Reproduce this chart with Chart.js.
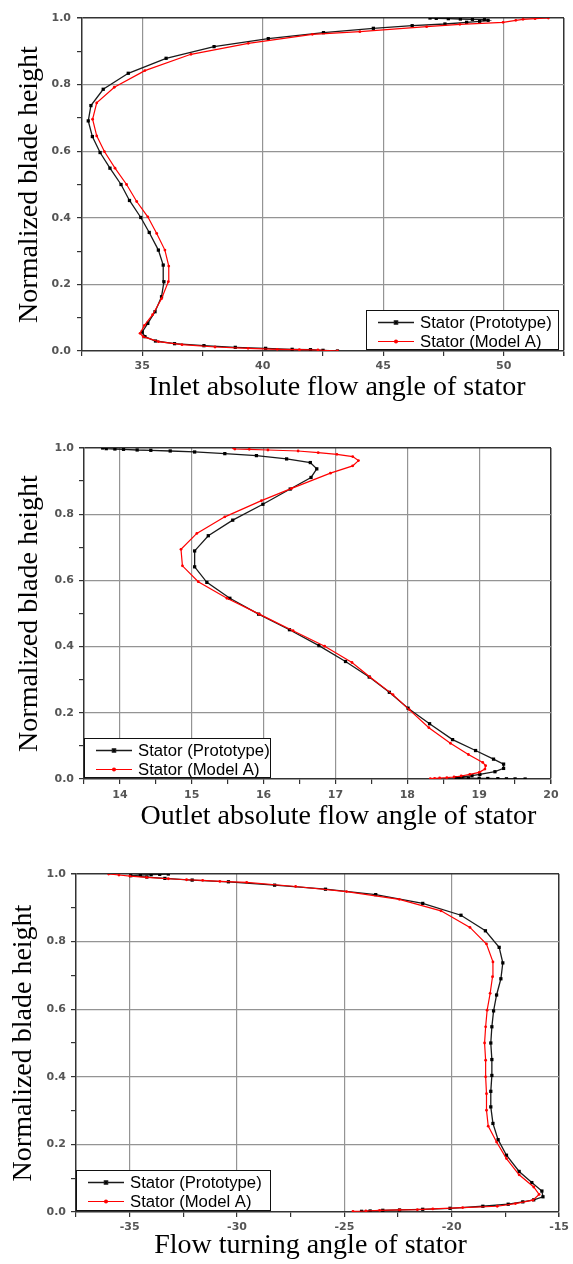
<!DOCTYPE html>
<html>
<head>
<meta charset="utf-8">
<script src="https://cdn.jsdelivr.net/npm/chart.js@4.4.1/dist/chart.umd.min.js"></script>
<style>
  html, body { margin: 0; padding: 0; background: #fff; }
  #page { position: relative; width: 573px; height: 1264px; }
  canvas { position: absolute; left: 0; }
</style>
</head>
<body>
<div id="page">
  <canvas id="inlet" width="573" height="420" style="top:0px"></canvas>
  <canvas id="outlet" width="573" height="425" style="top:420px"></canvas>
  <canvas id="turning" width="573" height="419" style="top:845px"></canvas>
</div>
<script>
// Series names (legend)
const seriesNames = ["Stator (Prototype)", "Stator (Model A)"];

// Axis titles (leading / trailing spaces nudge the centred title like the original)
const yTitle = "Normalized blade height";
const xTitles = [
    "    Inlet absolute flow angle of stator",
    "      Outlet absolute flow angle of stator",
    "Flow turning angle of stator  "
];

// --- Inlet absolute flow angle (deg) vs normalized height ---
const inletProtoAngle = [43.1, 42.5, 41.98, 41.22, 40.12, 38.86, 37.56, 36.34, 35.55, 35.11, 35.0, 35.23, 35.53, 35.8, 35.9, 35.87, 35.67, 35.29, 34.94, 34.47, 34.12, 33.66, 33.25, 32.93, 32.76, 32.87, 33.38, 34.42, 35.99, 37.98, 40.23, 42.52, 44.59, 46.2, 47.56, 48.46, 49.0, 49.35, 49.2, 48.7, 48.2, 47.7, 47.2, 46.94];
const inletProtoHeight = [0.0, 0.002, 0.004, 0.005, 0.008, 0.011, 0.016, 0.022, 0.030, 0.043, 0.057, 0.083, 0.118, 0.163, 0.208, 0.258, 0.303, 0.356, 0.401, 0.452, 0.50, 0.549, 0.596, 0.644, 0.691, 0.737, 0.786, 0.834, 0.879, 0.914, 0.938, 0.956, 0.969, 0.977, 0.982, 0.987, 0.990, 0.993, 0.995, 0.996, 0.997, 0.998, 0.999, 1.0];
const inletModelAngle = [43.1, 42.29, 41.52, 40.6, 39.39, 38.02, 36.65, 35.67, 35.04, 34.91, 35.09, 35.43, 35.8, 36.08, 36.1, 35.94, 35.6, 35.23, 34.77, 34.35, 33.87, 33.43, 33.11, 32.94, 33.11, 33.84, 35.11, 37.02, 39.4, 42.06, 44.03, 46.8, 48.18, 49.97, 50.5, 50.8, 51.3, 51.85];
const inletModelHeight = [0.0, 0.003, 0.004, 0.005, 0.008, 0.012, 0.019, 0.028, 0.043, 0.053, 0.077, 0.109, 0.157, 0.208, 0.255, 0.303, 0.353, 0.403, 0.449, 0.50, 0.549, 0.599, 0.646, 0.696, 0.745, 0.792, 0.842, 0.891, 0.924, 0.951, 0.959, 0.974, 0.981, 0.987, 0.993, 0.996, 0.998, 1.0];

// --- Outlet absolute flow angle (deg) vs normalized height ---
const outletProtoAngle = [19.64, 19.5, 19.38, 19.26, 19.12, 19.0, 18.85, 18.72, 18.68, 18.76, 18.9, 19.01, 19.22, 19.34, 19.34, 19.2, 18.95, 18.63, 18.31, 18.01, 17.75, 17.47, 17.14, 16.77, 16.36, 15.93, 15.53, 15.21, 15.04, 15.04, 15.23, 15.57, 15.99, 16.37, 16.66, 16.74, 16.65, 16.32, 15.9, 15.46, 15.04, 14.7, 14.43, 14.24, 14.05, 13.93, 13.81, 13.76];
const outletProtoHeight = [0.0, 0.0003, 0.0006, 0.001, 0.0015, 0.002, 0.0025, 0.003, 0.004, 0.006, 0.010, 0.014, 0.022, 0.032, 0.045, 0.060, 0.086, 0.119, 0.167, 0.214, 0.262, 0.308, 0.355, 0.403, 0.451, 0.498, 0.546, 0.594, 0.641, 0.689, 0.735, 0.782, 0.830, 0.876, 0.911, 0.937, 0.956, 0.967, 0.977, 0.983, 0.988, 0.991, 0.993, 0.994, 0.996, 0.997, 0.998, 1.0];
const outletModelAngle = [18.32, 18.38, 18.45, 18.55, 18.65, 18.75, 18.87, 19.0, 19.08, 19.09, 19.05, 18.85, 18.6, 18.3, 18.03, 17.8, 17.48, 17.23, 16.85, 16.41, 15.94, 15.49, 15.09, 14.87, 14.85, 15.07, 15.46, 15.97, 16.39, 16.93, 17.24, 17.32, 17.24, 17.02, 16.76, 16.48, 16.06, 15.8, 15.6, 15.58];
const outletModelHeight = [0.001, 0.002, 0.003, 0.004, 0.006, 0.009, 0.014, 0.020, 0.030, 0.040, 0.050, 0.074, 0.108, 0.155, 0.209, 0.255, 0.308, 0.352, 0.401, 0.448, 0.498, 0.546, 0.596, 0.644, 0.694, 0.742, 0.792, 0.841, 0.878, 0.924, 0.946, 0.962, 0.974, 0.981, 0.986, 0.991, 0.994, 0.996, 0.997, 1.0];

// --- Flow turning angle (deg) vs normalized height ---
const turnProtoAngle = [-24.2, -23.8, -23.21, -22.43, -21.35, -20.08, -18.55, -17.37, -16.69, -16.18, -15.75, -15.8, -16.27, -16.86, -17.45, -17.84, -18.08, -18.18, -18.18, -18.13, -18.13, -18.18, -18.13, -18.05, -17.91, -17.71, -17.62, -17.79, -18.43, -19.57, -21.35, -23.54, -25.88, -28.25, -30.4, -32.09, -33.36, -34.2, -34.95, -34.5, -34.0, -33.6, -33.2];
const turnProtoHeight = [0.002, 0.003, 0.005, 0.006, 0.008, 0.011, 0.017, 0.023, 0.030, 0.036, 0.045, 0.062, 0.087, 0.120, 0.168, 0.214, 0.262, 0.311, 0.357, 0.404, 0.451, 0.500, 0.548, 0.595, 0.642, 0.690, 0.737, 0.783, 0.832, 0.878, 0.913, 0.939, 0.955, 0.967, 0.977, 0.982, 0.987, 0.991, 0.995, 0.997, 0.998, 0.999, 1.0];
const turnModelAngle = [-24.6, -24.0, -23.36, -22.43, -21.6, -20.88, -19.49, -17.88, -17.03, -16.22, -15.93, -16.18, -16.86, -17.45, -17.91, -18.3, -18.38, -18.38, -18.42, -18.42, -18.47, -18.42, -18.35, -18.21, -18.1, -18.08, -18.38, -19.15, -20.5, -22.44, -24.9, -27.27, -29.55, -30.8, -31.6, -32.35, -33.2, -34.21, -34.99, -35.5, -35.98];
const turnModelHeight = [0.002, 0.003, 0.005, 0.006, 0.007, 0.009, 0.013, 0.017, 0.025, 0.035, 0.052, 0.074, 0.110, 0.158, 0.207, 0.254, 0.301, 0.350, 0.400, 0.449, 0.500, 0.548, 0.597, 0.647, 0.696, 0.740, 0.793, 0.842, 0.891, 0.925, 0.948, 0.963, 0.975, 0.978, 0.981, 0.983, 0.986, 0.990, 0.994, 0.997, 1.0];

// Axis ranges: [min, max, minor step, major step]
const inletRange = [32.5, 52.5, 2.5, 5];
const outletRange = [13.5, 20, 0.5, 1];
const turnRange = [-37.5, -15, 2.5, 5];
const heightRange = [0, 1, 0.1, 0.2];

// -----------------------------------------------------------------------
// Legend drawn as a framed box inside the plot area (Origin style)
// -----------------------------------------------------------------------
const boxLegend = {
    id: "boxLegend",
    afterDraw(chart, args, opts) {
        const ctx = chart.ctx;
        const area = chart.chartArea;
        const w = opts.width, h = opts.height;
        const x = opts.side === "right" ? area.right - opts.inset - w : area.left + opts.inset;
        const y = area.bottom - h - 1;
        ctx.save();
        ctx.fillStyle = "#fff";
        ctx.fillRect(x, y, w, h);
        ctx.strokeStyle = "#111";
        ctx.lineWidth = 1;
        ctx.strokeRect(x + 0.5, y + 0.5, w - 1, h - 1);
        ctx.font = "16.7px 'Liberation Sans', Arial, sans-serif";
        ctx.textBaseline = "middle";
        ctx.textAlign = "left";
        chart.data.datasets.forEach((ds, i) => {
            const ry = y + 12.5 + i * 19;
            ctx.strokeStyle = ds.borderColor;
            ctx.lineWidth = ds.borderWidth;
            ctx.beginPath();
            ctx.moveTo(x + 12, ry);
            ctx.lineTo(x + 48, ry);
            ctx.stroke();
            ctx.fillStyle = ds.backgroundColor;
            Chart.helpers.drawPoint(ctx, {
                pointStyle: ds.pointStyle, radius: ds.pointRadius, borderWidth: 1, rotation: 0
            }, x + 30, ry);
            ctx.fillStyle = "#000";
            ctx.fillText(ds.label, x + 54, ry + 1);
        });
        ctx.restore();
    }
};

function isMultiple(v, step) {
    const r = v / step;
    return Math.abs(r - Math.round(r)) < 1e-6;
}

function pairs(xs, ys) {
    return xs.map((x, i) => ({ x: x, y: ys[i] }));
}

// p: layout per panel
function makeChart(id, range, protoX, protoY, modelX, modelY, xTitle, p) {
    const [xMin, xMax, xStep, xMajor] = range;
    const [yMin, yMax, yStep, yMajor] = heightRange;
    const tickFont = { family: "'DejaVu Sans', sans-serif", size: 11, weight: "bold" };
    const titleFont = { family: "'Liberation Serif', 'Times New Roman', serif", size: 28 };
    const edge = "#333";

    return new Chart(document.getElementById(id), {
        type: "scatter",
        data: {
            datasets: [
                {
                    label: seriesNames[0],
                    data: pairs(protoX, protoY),
                    showLine: true,
                    borderColor: "#1a1a1a",
                    backgroundColor: "#000",
                    borderWidth: 1.3,
                    pointStyle: "rect",
                    pointRadius: 2.3,
                    pointBorderWidth: 0,
                    order: 2
                },
                {
                    label: seriesNames[1],
                    data: pairs(modelX, modelY),
                    showLine: true,
                    borderColor: "#ff0000",
                    backgroundColor: "#ff0000",
                    borderWidth: 1.2,
                    pointStyle: "circle",
                    pointRadius: 1.4,
                    pointBorderWidth: 0,
                    order: 1
                }
            ]
        },
        options: {
            responsive: false,
            animation: false,
            layout: { padding: { left: 0, top: p.top, right: p.right, bottom: 0 } },
            plugins: {
                legend: { display: false },
                tooltip: { enabled: false },
                boxLegend: p.legend
            },
            scales: {
                x: {
                    type: "linear",
                    min: xMin,
                    max: xMax,
                    afterFit: (s) => { s.height = p.xHeight; },
                    border: { color: edge, width: 1.5 },
                    grid: {
                        color: (c) => {
                            const v = c.tick.value;
                            if (Math.abs(v - xMax) < 1e-6) return edge;
                            if (Math.abs(v - xMin) < 1e-6) return "rgba(0,0,0,0)";
                            return isMultiple(v, xMajor) ? "#949494" : "rgba(0,0,0,0)";
                        },
                        lineWidth: (c) => (Math.abs(c.tick.value - xMax) < 1e-6 ? 1.5 : 1.2),
                        tickColor: edge,
                        tickLength: 5
                    },
                    ticks: {
                        stepSize: xStep,
                        autoSkip: false,
                        maxRotation: 0,
                        padding: p.xPad,
                        color: "#555",
                        font: tickFont,
                        callback: (v) => (isMultiple(v, xMajor) ? String(Math.round(v)) : "")
                    },
                    title: {
                        display: true,
                        text: xTitle,
                        color: "#000",
                        font: titleFont,
                        padding: { top: 0, bottom: p.xTitlePad }
                    }
                },
                y: {
                    type: "linear",
                    min: yMin,
                    max: yMax,
                    afterFit: (s) => { s.width = p.yWidth; },
                    border: { color: edge, width: 1.5 },
                    grid: {
                        color: (c) => {
                            const v = c.tick.value;
                            if (Math.abs(v - yMax) < 1e-6) return edge;
                            if (Math.abs(v - yMin) < 1e-6) return "rgba(0,0,0,0)";
                            return isMultiple(v, yMajor) ? "#949494" : "rgba(0,0,0,0)";
                        },
                        lineWidth: (c) => (Math.abs(c.tick.value - yMax) < 1e-6 ? 1.5 : 1.2),
                        tickColor: edge,
                        tickLength: 5
                    },
                    ticks: {
                        stepSize: yStep,
                        autoSkip: false,
                        padding: p.yPad,
                        color: "#555",
                        font: tickFont,
                        callback: (v) => (isMultiple(v, yMajor) ? v.toFixed(1) : "")
                    },
                    title: {
                        display: true,
                        text: yTitle,
                        color: "#000",
                        font: titleFont,
                        padding: { top: p.yTitlePad, bottom: 0 }
                    }
                }
            }
        },
        plugins: [boxLegend]
    });
}

makeChart("inlet", inletRange, inletProtoAngle, inletProtoHeight, inletModelAngle, inletModelHeight, xTitles[0], {
    top: 18, right: 9, xHeight: 69, yWidth: 82, xPad: 4, yPad: 6, xTitlePad: 16, yTitlePad: 13,
    legend: { side: "right", inset: 5, width: 193, height: 40 }
});
makeChart("outlet", outletRange, outletProtoAngle, outletProtoHeight, outletModelAngle, outletModelHeight, xTitles[1], {
    top: 28, right: 22, xHeight: 66, yWidth: 84, xPad: 5, yPad: 5, xTitlePad: 12, yTitlePad: 13,
    legend: { side: "left", inset: 0, width: 187, height: 40 }
});
makeChart("turning", turnRange, turnProtoAngle, turnProtoHeight, turnModelAngle, turnModelHeight, xTitles[2], {
    top: 29, right: 13, xHeight: 52, yWidth: 76, xPad: 4, yPad: 5, xTitlePad: 2, yTitlePad: 7,
    legend: { side: "left", inset: 0, width: 195, height: 41 }
});
</script>
</body>
</html>
